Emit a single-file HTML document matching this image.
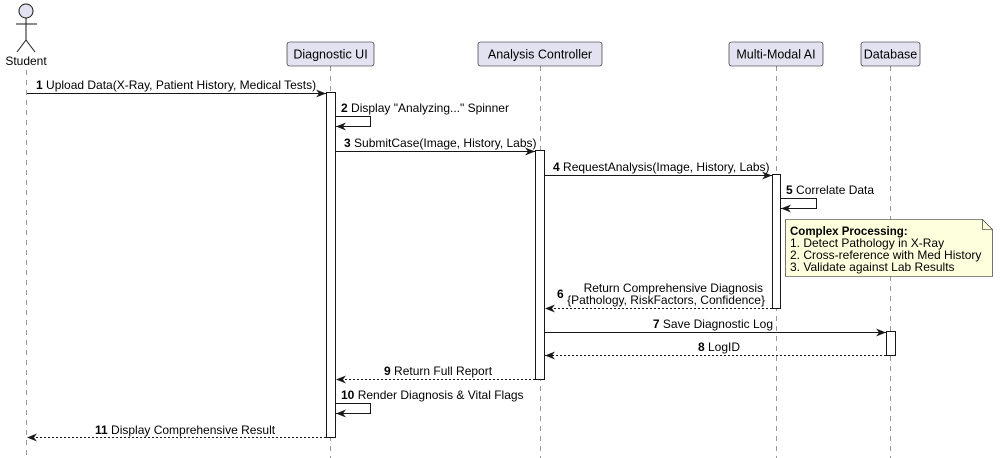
<!DOCTYPE html>
<html><head><meta charset="utf-8"><style>
html,body{margin:0;padding:0;background:#fff;}
svg{display:block;font-family:"Liberation Sans",Arial,sans-serif;}
</style></head><body>
<svg width="1000" height="458" viewBox="0 0 1000 458" xmlns="http://www.w3.org/2000/svg">
<defs>
<marker id="a" markerWidth="10" markerHeight="8" refX="10" refY="4" orient="auto" markerUnits="userSpaceOnUse"><path d="M0,0 L10,4 L0,8 L3,4 Z" fill="#181818"/></marker>
</defs>
<g stroke="#999" stroke-width="1" stroke-dasharray="5,5">
<line x1="26.5" y1="70" x2="26.5" y2="458"/>
<line x1="330.5" y1="66" x2="330.5" y2="458"/>
<line x1="540.5" y1="66" x2="540.5" y2="458"/>
<line x1="776.5" y1="66" x2="776.5" y2="458"/>
<line x1="890.5" y1="66" x2="890.5" y2="458"/>
</g>
<g stroke="#181818" stroke-width="1" fill="none">
<circle cx="26" cy="11" r="7" fill="#E2E2F0"/>
<line x1="26" y1="18" x2="26" y2="40"/>
<line x1="16" y1="24" x2="37" y2="24"/>
<line x1="26" y1="40" x2="17" y2="52"/>
<line x1="26" y1="40" x2="35" y2="52"/>
</g>
<text x="26" y="65" font-size="12" text-anchor="middle">Student</text>
<g fill="#E2E2F0" stroke="#181818" stroke-width="0.6">
<rect x="287" y="42" width="87" height="24" rx="2.5"/>
<rect x="478" y="42" width="124" height="24" rx="2.5"/>
<rect x="729" y="42" width="94" height="24" rx="2.5"/>
<rect x="861" y="42" width="59" height="24" rx="2.5"/>
</g>
<g font-size="12.5" text-anchor="middle">
<text x="330.5" y="58.5">Diagnostic UI</text>
<text x="540" y="58.5">Analysis Controller</text>
<text x="776" y="58.5">Multi-Modal AI</text>
<text x="890.5" y="58.5">Database</text>
</g>
<g fill="#fff" stroke="#181818" stroke-width="1">
<rect x="326.5" y="92.5" width="9" height="345"/>
<rect x="535.5" y="150.5" width="9" height="229"/>
<rect x="772.5" y="174.5" width="8" height="134"/>
<rect x="886.5" y="331.5" width="9" height="24"/>
</g>
<g stroke="#181818" stroke-width="1" fill="none">
<line x1="27" y1="93.5" x2="326" y2="93.5" marker-end="url(#a)"/>
<polyline points="335,116.5 370.5,116.5 370.5,126.5 336,126.5" marker-end="url(#a)"/>
<line x1="335" y1="151.5" x2="535" y2="151.5" marker-end="url(#a)"/>
<line x1="544" y1="175.5" x2="772" y2="175.5" marker-end="url(#a)"/>
<polyline points="780,198.5 816.5,198.5 816.5,208.5 781,208.5" marker-end="url(#a)"/>
<line x1="772" y1="308.5" x2="545" y2="308.5" stroke-dasharray="2,2" marker-end="url(#a)"/>
<line x1="544" y1="332.5" x2="886" y2="332.5" marker-end="url(#a)"/>
<line x1="886" y1="355.5" x2="545" y2="355.5" stroke-dasharray="2,2" marker-end="url(#a)"/>
<line x1="535" y1="379.5" x2="336" y2="379.5" stroke-dasharray="2,2" marker-end="url(#a)"/>
<polyline points="335,403.5 370.5,403.5 370.5,413.5 336,413.5" marker-end="url(#a)"/>
<line x1="326" y1="437.5" x2="27" y2="437.5" stroke-dasharray="2,2" marker-end="url(#a)"/>
</g>
<g font-size="12" fill="#000">
<text x="36" y="89"><tspan font-weight="bold">1</tspan> Upload Data(X-Ray, Patient History, Medical Tests)</text>
<text x="341" y="112"><tspan font-weight="bold">2</tspan> Display "Analyzing..." Spinner</text>
<text x="344" y="147"><tspan font-weight="bold">3</tspan> SubmitCase(Image, History, Labs)</text>
<text x="553" y="171"><tspan font-weight="bold">4</tspan> RequestAnalysis(Image, History, Labs)</text>
<text x="786" y="194"><tspan font-weight="bold">5</tspan> Correlate Data</text>
<text x="557" y="298" font-weight="bold">6</text>
<text x="763" y="292" text-anchor="end">Return Comprehensive Diagnosis</text>
<text x="765" y="304" text-anchor="end">{Pathology, RiskFactors, Confidence}</text>
<text x="773" y="328" text-anchor="end"><tspan font-weight="bold">7</tspan> Save Diagnostic Log</text>
<text x="740" y="351" text-anchor="end"><tspan font-weight="bold">8</tspan> LogID</text>
<text x="384" y="375"><tspan font-weight="bold">9</tspan> Return Full Report</text>
<text x="341" y="399"><tspan font-weight="bold">10</tspan> Render Diagnosis &amp; Vital Flags</text>
<text x="95" y="434"><tspan font-weight="bold">11</tspan> Display Comprehensive Result</text>
</g>
<path d="M785.5,219.5 L982.5,219.5 L992.5,229.5 L992.5,276.5 L785.5,276.5 Z" fill="#FEFFDD" stroke="#181818" stroke-width="0.6"/>
<path d="M982.5,219.5 L982.5,229.5 L992.5,229.5" fill="none" stroke="#181818" stroke-width="0.6"/>
<g font-size="12" fill="#000">
<text x="790" y="235" font-weight="bold" font-size="11.5">Complex Processing:</text>
<text x="790" y="247">1. Detect Pathology in X-Ray</text>
<text x="790" y="259">2. Cross-reference with Med History</text>
<text x="790" y="271">3. Validate against Lab Results</text>
</g>
</svg>
</body></html>
